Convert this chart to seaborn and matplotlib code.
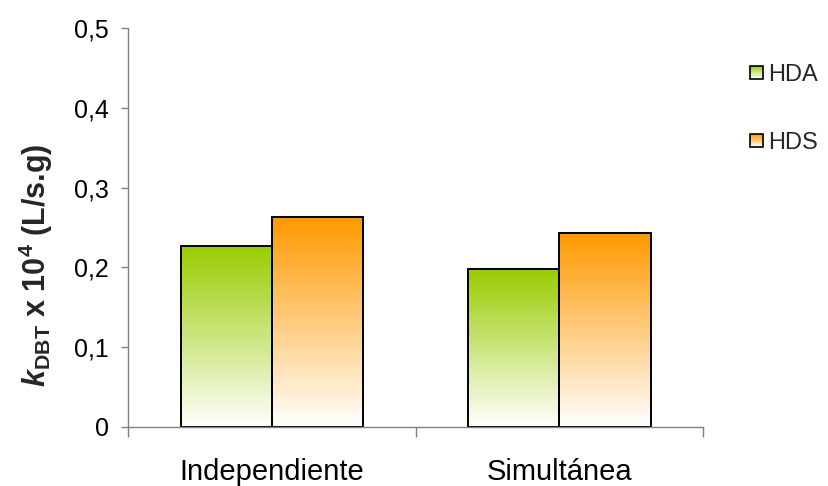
import numpy as np
import pandas as pd
import matplotlib
matplotlib.use("Agg")
import matplotlib.pyplot as plt
import seaborn as sns
from matplotlib.colors import to_rgb
from matplotlib.legend_handler import HandlerBase
from matplotlib.patches import Rectangle

# --- data -------------------------------------------------------------
metodos = ["Independiente", "Simultánea"]
reacciones = ["HDA", "HDS"]
k_hda = [0.227, 0.198]
k_hds = [0.263, 0.243]
yticks = [0, 0.1, 0.2, 0.3, 0.4, 0.5]
ytick_labels = ["0", "0,1", "0,2", "0,3", "0,4", "0,5"]

colores = {"HDA": "#99CC00", "HDS": "#FF9900"}

df = pd.DataFrame({
    "metodo": metodos * 2,
    "reaccion": ["HDA"] * len(metodos) + ["HDS"] * len(metodos),
    "k": k_hda + k_hds,
})

# --- style ------------------------------------------------------------
sns.set_theme(style="white")
plt.rcParams["font.family"] = ["Liberation Sans", "DejaVu Sans"]
plt.rcParams["mathtext.fontset"] = "custom"
plt.rcParams["mathtext.rm"] = "Liberation Sans"
plt.rcParams["mathtext.bf"] = "Liberation Sans:bold"
plt.rcParams["mathtext.it"] = "Liberation Sans:italic"
plt.rcParams["mathtext.bfit"] = "Liberation Sans:bold:italic"

fig = plt.figure(figsize=(8.29, 4.86), dpi=100)
ax = fig.add_axes([0.1544, 0.1214, 0.694, 0.821])

sns.barplot(data=df, x="metodo", y="k", hue="reaccion", order=metodos,
            hue_order=reacciones, palette=colores, width=0.633, gap=0,
            edgecolor="black", linewidth=1.4, saturation=1, ax=ax,
            legend=False)


def gradiente(color, n=256):
    """Vertical colour ramp: full colour at the top, white at the bottom."""
    c = np.array(to_rgb(color))
    t = np.linspace(0, 1, n)[:, None]  # 0 = bottom, 1 = top
    return (1 - t) * np.ones(3) + t * c


# replace flat fills with a vertical gradient clipped to each bar
for bar in list(ax.patches):
    color = bar.get_facecolor()[:3]
    x0, y0 = bar.get_x(), bar.get_y()
    w, h = bar.get_width(), bar.get_height()
    img = gradiente(color)[:, None, :]
    im = ax.imshow(img, extent=[x0, x0 + w, y0, y0 + h], origin="lower",
                   aspect="auto", zorder=bar.get_zorder() - 0.1,
                   interpolation="bilinear")
    im.set_clip_path(bar)
    bar.set_facecolor("none")

ax.set_xlim(-0.5, len(metodos) - 0.5)
ax.set_ylim(0, 0.5)
ax.set_yticks(yticks)
ax.set_yticklabels(ytick_labels)

# category labels centred, ticks marking category boundaries
ax.set_xticks(range(len(metodos)))
ax.set_xticklabels(metodos)
ax.set_xticks(np.arange(-0.5, len(metodos)), minor=True)
ax.tick_params(axis="x", which="major", length=0, pad=22, labelsize=21,
               colors="black")
ax.tick_params(axis="x", which="minor", length=7, width=1, color="#808080",
               bottom=True)
ax.tick_params(axis="y", which="major", length=5, width=1, color="#808080",
               left=True, pad=9, labelsize=18, labelcolor="black")

for side in ("top", "right"):
    ax.spines[side].set_visible(False)
for side in ("left", "bottom"):
    ax.spines[side].set_color("#808080")
    ax.spines[side].set_linewidth(1)

ax.set_xlabel("")
ax.set_ylabel(r"$\mathbfit{k}_{\mathbf{DBT}}$ x 10$^{\mathbf{4}}$ (L/s.g)",
              fontsize=22, fontweight="bold")
ax.yaxis.set_label_coords(-0.127, 0.406)


class HandlerGradiente(HandlerBase):
    """Legend key drawn as a small square with the same colour ramp."""

    def create_artists(self, legend, orig_handle, xdescent, ydescent,
                       width, height, fontsize, trans):
        color = orig_handle.get_facecolor()[:3]
        side = min(width, height)
        x0 = -xdescent
        y0 = -ydescent + (height - side) / 2
        n = 12
        ramp = gradiente(color, n)
        artists = []
        for i in range(n):
            r = Rectangle((x0, y0 + side * i / n), side, side / n,
                          facecolor=ramp[i], edgecolor="none", transform=trans)
            artists.append(r)
        artists.append(Rectangle((x0, y0), side, side, facecolor="none",
                                 edgecolor="black", linewidth=1.2,
                                 transform=trans))
        return artists


handles = [Rectangle((0, 0), 1, 1, facecolor=colores[r]) for r in reacciones]
leg = fig.legend(handles, reacciones, loc="upper left",
                 bbox_to_anchor=(0.905, 0.869), frameon=False, fontsize=17,
                 handler_map={Rectangle: HandlerGradiente()},
                 handlelength=0.55, handleheight=0.55, handletextpad=0.2,
                 labelspacing=1.96, borderaxespad=0, borderpad=0)

fig.savefig("out.png", dpi=100)
